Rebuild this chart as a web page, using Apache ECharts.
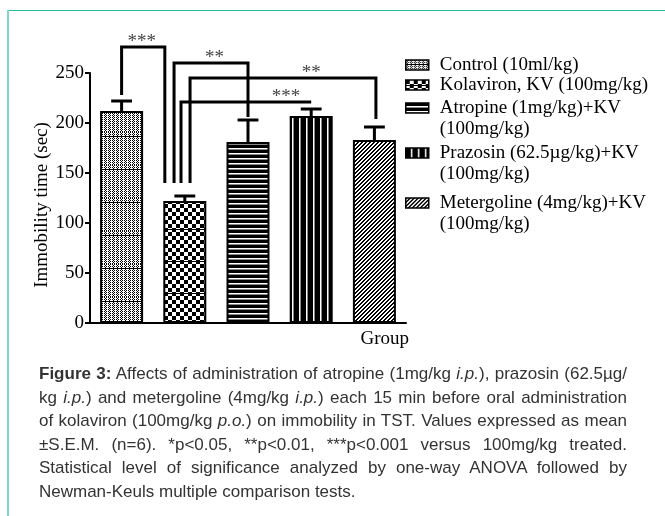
<!DOCTYPE html>
<html>
<head>
<meta charset="utf-8">
<script src="https://cdn.jsdelivr.net/npm/echarts@6/dist/echarts.min.js"></script>
<style>
  html, body { margin: 0; padding: 0; background: #fff; }
  #wrap { position: relative; width: 665px; height: 516px; overflow: hidden; background: #fff; }
  #chart { position: absolute; left: 0; top: 0; width: 665px; height: 516px; }
  #topline { position: absolute; left: 7px; top: 10px; width: 658px; height: 1px; background: #1dbf9f; }
  #leftline { position: absolute; left: 7px; top: 10px; width: 2px; height: 506px; background: #7fd8ca; }
  #caption { position: absolute; left: 39px; top: 362px; width: 588px;
    font-family: "Liberation Sans", Arial, sans-serif; font-size: 17px; line-height: 23.6px; color: #333; }
  #caption .ln { white-space: nowrap; text-align: justify; text-align-last: justify; }
  #caption .last { text-align: left; text-align-last: left; }
</style>
</head>
<body>
<div id="wrap">
  <div id="chart"></div>
  <div id="topline"></div>
  <div id="leftline"></div>
  <div id="caption">
    <div class="ln"><b>Figure 3:</b> Affects of administration of atropine (1mg/kg <i>i.p.</i>), prazosin (62.5µg/</div>
    <div class="ln">kg <i>i.p.</i>) and metergoline (4mg/kg <i>i.p.</i>) each 15 min before oral administration</div>
    <div class="ln">of kolaviron (100mg/kg <i>p.o.</i>) on immobility in TST. Values expressed as mean</div>
    <div class="ln">±S.E.M. (n=6). *p&lt;0.05, **p&lt;0.01, ***p&lt;0.001 versus 100mg/kg treated.</div>
    <div class="ln">Statistical level of significance analyzed by one-way ANOVA followed by</div>
    <div class="ln last">Newman-Keuls multiple comparison tests.</div>
  </div>
</div>
<script>
// ---------- data ----------
const groups = [
  'Control (10ml/kg)',
  'Kolaviron, KV (100mg/kg)',
  'Atropine (1mg/kg)+KV\n(100mg/kg)',
  'Prazosin (62.5µg/kg)+KV\n(100mg/kg)',
  'Metergoline (4mg/kg)+KV\n(100mg/kg)'
];
const means = [212, 122, 181, 207, 183];
const sems = [10, 5, 22, 7, 13];
const yTicks = [0, 50, 100, 150, 200, 250];

// significance brackets (group indices and value levels)
const bracketFrom = [0, 1, 1, 1];
const bracketTo = [1, 2, 4, 3];
const bracketTop = [276, 260, 245, 221];
const bracketFromEnd = [228, 140, 140, 140];
const bracketToEnd = [140, 206, 204, 221];
const bracketLabels = ['***', '**', '**', '***'];

// ---------- layout / style ----------
const SERIF = '"Liberation Serif", "Times New Roman", serif';
const bracketLayout = {
  leftOff: [0, -0.17, 0.083, -0.06],
  rightOff: [-0.316, 0, 0.024, 0],
  labelCat: [0, 1, 3, 2],
  labelOff: [0.32, 0.47, 0, 0.6]
};

function pat(w, h, draw) {
  const c = document.createElement('canvas');
  c.width = w; c.height = h;
  const g = c.getContext('2d');
  g.fillStyle = '#fff'; g.fillRect(0, 0, w, h);
  g.fillStyle = '#000';
  draw(g, w, h);
  return { image: c, repeat: 'repeat' };
}
const patterns = [
  pat(4, 33, (g, w, h) => {
    for (let y = 0; y < h; y++) for (let x = 0; x < w; x++) {
      if ((y % 2 === 0 && x % 2 === 0) || (y % 2 === 1 && x % 4 === 1)) g.fillRect(x, y, 1, 1);
    }
    g.fillRect(0, 4, w, 1);
  }),
  pat(8, 32, (g, w, h) => {
    for (let y = 0; y < h; y += 8) { g.fillRect(0, y, 4, 4); g.fillRect(4, y + 4, 4, 4); }
    g.fillRect(0, 5, w, 1);
  }),
  pat(4, 5, (g) => { g.fillRect(0, 0, 4, 3); g.fillStyle = '#888'; g.fillRect(0, 4, 4, 1); }),
  pat(7, 4, (g) => { g.fillRect(0, 0, 5, 4); g.fillStyle = '#888'; g.fillRect(6, 0, 1, 4); }),
  pat(4, 4, (g) => {
    for (let i = 0; i < 4; i++) { g.fillRect((3 - i) % 4, i, 2, 1); if (3 - i + 1 >= 4) g.fillRect(0, i, 1, 1); }
  })
];

const chart = echarts.init(document.getElementById('chart'), null, { renderer: 'canvas' });

const barSeries = groups.map((name, i) => ({
  name: name,
  type: 'bar',
  barWidth: 43,
  barGap: '-100%',
  data: means.map((v, j) => (j === i ? v : null)),
  itemStyle: { color: patterns[i], borderColor: '#000', borderWidth: 2 },
  z: 2
}));

const errSeries = {
  type: 'custom',
  name: 'sem',
  clip: false,
  z: 5,
  data: means.map((m, i) => [i, m, sems[i]]),
  encode: { x: 0, y: 1 },
  renderItem: function (params, api) {
    const x = api.value(0), m = api.value(1), s = api.value(2);
    const p0 = api.coord([x, m]);
    const p1 = api.coord([x, m + s]);
    const half = api.size([1, 0])[0] * 0.165;
    const st = { stroke: '#000', lineWidth: 3 };
    return {
      type: 'group',
      children: [
        { type: 'line', shape: { x1: p0[0], y1: p0[1], x2: p1[0], y2: p1[1] }, style: st },
        { type: 'line', shape: { x1: p1[0] - half, y1: p1[1], x2: p1[0] + half, y2: p1[1] }, style: st }
      ]
    };
  }
};

const bracketSeries = {
  type: 'custom',
  name: 'sig',
  clip: false,
  z: 6,
  data: bracketFrom.map((f, i) => [f, bracketTop[i]]),
  encode: { x: 0, y: 1 },
  renderItem: function (params, api) {
    const i = params.dataIndex;
    const band = api.size([1, 0])[0];
    const xL = api.coord([bracketFrom[i], 0])[0] + bracketLayout.leftOff[i] * band;
    const xR = api.coord([bracketTo[i], 0])[0] + bracketLayout.rightOff[i] * band;
    const yT = api.coord([0, bracketTop[i]])[1];
    const yL = api.coord([0, bracketFromEnd[i]])[1];
    const yR = api.coord([0, bracketToEnd[i]])[1];
    const xLab = api.coord([bracketLayout.labelCat[i], 0])[0] + bracketLayout.labelOff[i] * band;
    return {
      type: 'group',
      children: [
        { type: 'polyline', shape: { points: [[xL, yL], [xL, yT], [xR, yT], [xR, yR]] },
          style: { stroke: '#000', lineWidth: 3, fill: null } },
        { type: 'text', style: { x: xLab, y: yT + 5, text: bracketLabels[i], align: 'center', verticalAlign: 'bottom',
          font: '19px ' + SERIF, fill: '#444' } }
      ]
    };
  }
};

const legendFirstLineY = [65, 85, 108, 153, 203];
const legends = groups.map((g, i) => {
  const multi = g.indexOf('\n') >= 0;
  return {
    data: [{ name: g, icon: 'rect' }],
    orient: 'vertical',
    left: 405,
    top: legendFirstLineY[i] - (multi ? 31.5 : 10.5),
    padding: 0,
    itemWidth: 23,
    itemHeight: 10,
    selectedMode: false,
    formatter: multi ? (n => '\n' + n) : (n => n),
    itemStyle: { borderColor: '#000', borderWidth: 1.5 },
    textStyle: { fontFamily: SERIF, fontSize: 19, lineHeight: 21, color: '#000', padding: [0, 0, 0, 6] }
  };
});

chart.setOption({
  animation: false,
  backgroundColor: 'transparent',
  legend: legends,
  grid: { left: 90, right: 259, top: 73, bottom: 193, containLabel: false },
  xAxis: {
    type: 'category',
    data: groups,
    axisLine: { lineStyle: { color: '#000', width: 2 } },
    axisTick: { show: false },
    axisLabel: { show: false },
    name: 'Group',
    nameLocation: 'end',
    nameGap: 3,
    nameTextStyle: { fontFamily: SERIF, fontSize: 19, color: '#000', align: 'right', verticalAlign: 'top', padding: [7, 0, 0, 0] }
  },
  yAxis: {
    type: 'value',
    min: yTicks[0], max: yTicks[yTicks.length - 1], interval: yTicks[1] - yTicks[0],
    splitLine: { show: false },
    axisLine: { show: true, lineStyle: { color: '#000', width: 2 } },
    axisTick: { show: true, length: 5, lineStyle: { color: '#000', width: 2 } },
    axisLabel: { fontFamily: SERIF, fontSize: 19, color: '#000', margin: 6 },
    name: 'Immobility time (sec)',
    nameLocation: 'middle',
    nameGap: 38,
    nameTextStyle: { fontFamily: SERIF, fontSize: 19, color: '#000', padding: [0, 14, 0, 0] }
  },
  series: barSeries.concat([errSeries, bracketSeries])
});
</script>
</body>
</html>
